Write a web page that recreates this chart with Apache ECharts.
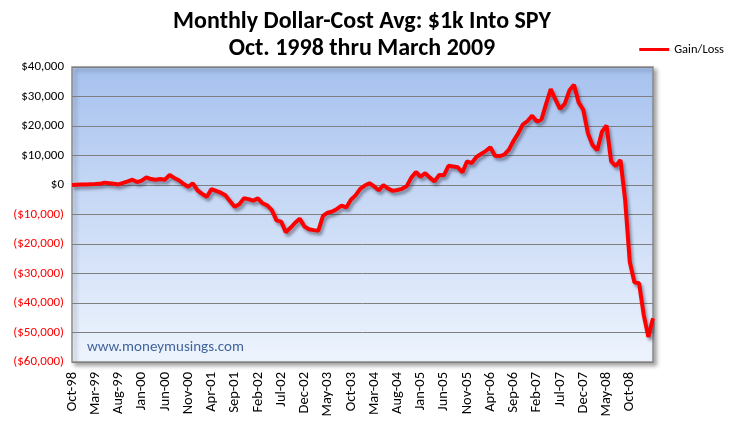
<!DOCTYPE html>
<html>
<head>
<meta charset="utf-8">
<script src="https://cdn.jsdelivr.net/npm/echarts@6/dist/echarts.min.js"></script>
<style>html,body{margin:0;padding:0;background:#fff;}#c{width:731px;height:426px;}</style>
</head>
<body>
<div id="c"></div>
<script>
var FONT = 'Carlito, Calibri, Lato, "Open Sans", sans-serif';
var startYear = 1998, startMonth = 9; // Oct-98
var monthNames = ['Jan','Feb','Mar','Apr','May','Jun','Jul','Aug','Sep','Oct','Nov','Dec'];
var categories = [];
for (var k = 0; k < 126; k++) {
  var m = (startMonth + k) % 12;
  var y = startYear + Math.floor((startMonth + k) / 12);
  categories.push(monthNames[m] + '-' + String(y % 100).padStart(2, '0'));
}
var gainLoss = [
  0, 100, 150, 200, 250, 300, 400, 800, 600, 400,
  200, 700, 1200, 1800, 1000, 1500, 2600, 2000, 1800, 2000,
  1800, 3400, 2400, 1600, 400, -600, 600, -1800, -3000, -4000,
  -1400, -2000, -2600, -3500, -5500, -7400, -6500, -4500, -4800, -5300,
  -4500, -6200, -6900, -8500, -12000, -12400, -16000, -14500, -12800, -11400,
  -14100, -15000, -15300, -15500, -10500, -9400, -9000, -8100, -7000, -7600,
  -5000, -3500, -1300, -200, 600, -500, -1800, 0, -1200, -2000,
  -1700, -1300, -400, 2500, 4400, 2800, 4000, 2500, 1200, 3400,
  3300, 6500, 6300, 6000, 4300, 8000, 7400, 9500, 10500, 11500,
  12800, 9900, 9800, 10300, 12000, 15000, 17500, 20500, 21700, 23500,
  21500, 22200, 27500, 32500, 29000, 25800, 27500, 32000, 34000, 28000,
  25500, 17500, 13500, 11800, 18000, 20200, 8000, 6400, 8500, -5000,
  -26000, -33000, -33300, -44000, -51500, -45200
];
var labelEvery = 5;
var lastLabeledCategory = 'Oct-08';
var yTicks = { min: -60000, max: 40000, interval: 10000 };
var titleText = 'Monthly Dollar-Cost Avg: $1k Into SPY\nOct. 1998 thru March 2009';
var seriesName = 'Gain/Loss';
var watermark = 'www.moneymusings.com';

function fmtMoney(v) {
  var a = Math.abs(v).toString().replace(/\B(?=(\d{3})+(?!\d))/g, ',');
  return v < 0 ? '($' + a + ')' : '$' + a;
}
var lastLabelIdx = categories.indexOf(lastLabeledCategory);

var chart = echarts.init(document.getElementById('c'), null, { renderer: 'canvas' });
chart.setOption({
  animation: false,
  backgroundColor: '#ffffff',
  title: {
    text: titleText,
    left: 357, textAlign: 'center', top: 3,
    textStyle: { fontFamily: FONT, fontSize: 24, fontWeight: 'bold', color: '#000', lineHeight: 27 }
  },
  legend: {
    data: [{ name: seriesName, icon: 'rect' }],
    right: 2, top: 38,
    itemWidth: 30, itemHeight: 3, itemGap: 5,
    textStyle: { fontFamily: FONT, fontSize: 12.5, color: '#000' }
  },
  grid: {
    left: 72, top: 67, right: 78, bottom: 64,
    show: true,
    borderColor: '#8c8c8c', borderWidth: 1.5,
    backgroundColor: {
      type: 'linear', x: 0, y: 0, x2: 0, y2: 1,
      colorStops: [{ offset: 0, color: '#a7c2ef' }, { offset: 1, color: '#eef4fd' }]
    },
    shadowColor: 'rgba(0,0,0,0.35)', shadowBlur: 4, shadowOffsetX: 3, shadowOffsetY: 3
  },
  xAxis: {
    type: 'category',
    data: categories,
    boundaryGap: false,
    axisLine: { show: false },
    axisTick: { show: false },
    splitLine: { show: false },
    axisLabel: {
      interval: function (idx) { return idx % labelEvery === 0 && idx <= lastLabelIdx; },
      rotate: 90, margin: 10,
      fontFamily: FONT, fontSize: 14.5, color: '#000'
    }
  },
  yAxis: {
    type: 'value',
    min: yTicks.min, max: yTicks.max, interval: yTicks.interval,
    axisLine: { show: false },
    axisTick: { show: false },
    splitLine: { show: true, lineStyle: { color: '#7f7f7f', width: 1 } },
    axisLabel: {
      margin: 8,
      fontFamily: FONT, fontSize: 13,
      formatter: function (v) { return fmtMoney(v); },
      color: function (v) { return Number(v) < 0 ? '#ff0000' : '#000000'; }
    }
  },
  graphic: [{
    type: 'text', left: 87, top: 340, silent: true,
    style: { text: watermark, fontFamily: FONT, fontSize: 15, fill: '#40649a' }
  }],
  series: [{
    name: seriesName,
    type: 'line',
    data: gainLoss,
    symbol: 'none',
    smooth: false,
    lineStyle: {
      color: '#ff0000', width: 4,
      shadowColor: 'rgba(40,40,60,0.45)', shadowBlur: 3, shadowOffsetX: 2, shadowOffsetY: 3
    },
    itemStyle: { color: '#ff0000' }
  }]
});
</script>
</body>
</html>
